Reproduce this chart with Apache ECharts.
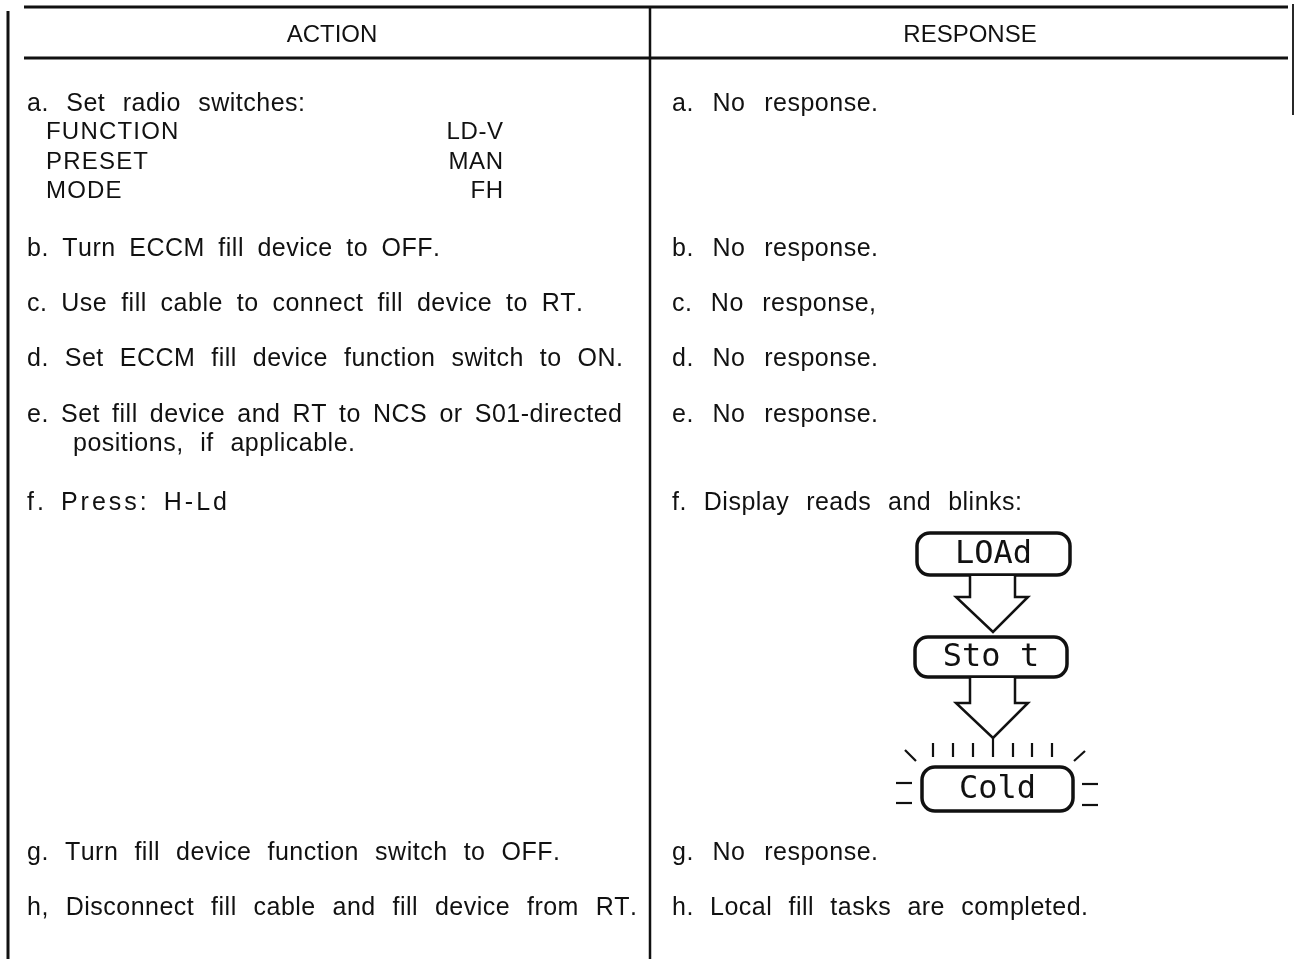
<!DOCTYPE html>
<html>
<head>
<meta charset="utf-8">
<style>
  html, body { margin: 0; padding: 0; background: #ffffff; }
  #chart { width: 1300px; height: 959px; }
</style>
<script src="https://cdn.jsdelivr.net/npm/echarts@6/dist/echarts.min.js"></script>
</head>
<body>
<div id="chart"></div>
<script>
// ---------------- data ----------------
const headers = ['ACTION', 'RESPONSE'];
const actionSteps = [
  'a. Set radio switches:',
  'b. Turn ECCM fill device to OFF.',
  'c. Use fill cable to connect fill device to RT.',
  'd. Set ECCM fill device function switch to ON.',
  'e. Set fill device and RT to NCS or S01-directed',
  'f. Press: H-Ld',
  'g. Turn fill device function switch to OFF.',
  'h, Disconnect fill cable and fill device from RT.'
];
const actionContinuations = ['', '', '', '', 'positions, if applicable.', '', '', ''];
const switchNames = ['FUNCTION', 'PRESET', 'MODE'];
const switchSettings = ['LD-V', 'MAN', 'FH'];
const responses = [
  'a. No response.',
  'b. No response.',
  'c. No response,',
  'd. No response.',
  'e. No response.',
  'f. Display reads and blinks:',
  'g. No response.',
  'h. Local fill tasks are completed.'
];
const displaySequence = ['LOAd', 'Sto t', 'Cold'];

// ---------------- layout ----------------
const INK = '#111111';
const FONT = "'Liberation Sans', Arial, Helvetica, sans-serif";
const SIZE = 25;
const HEAD_SIZE = 24;
const rowBaselines = [113, 258, 313, 368, 424, 512, 862, 917];
const switchBaselines = [141, 171, 200];
const contOffset = 29;
const leftX = 27, indentX = 46, contX = 73, valueRightX = 503, rightX = 672;
// set widths of the typeset lines (the source uses wide, justified word gaps)
const actionWidths = [278, 413, 556, 596, 595, 200, 533, 610];
const actionTracking = [0.5, 0.5, 0.5, 0.5, 0.5, 3.0, 0.5, 0.5];
const contWidth = 282;
const responseWidths = [206, 206, 204, 206, 206, 350, 206, 416];

const mctx = document.createElement('canvas').getContext('2d');
function measure(ch, size) {
  mctx.font = size + 'px ' + FONT;
  return mctx.measureText(ch).width;
}

const elements = [];
function place(text, x, baseline, ls, ws, align, size) {
  size = size || SIZE;
  const w = [];
  let total = 0;
  for (const ch of text) {
    const cw = measure(ch, size) + ls + (ch === ' ' ? ws : 0);
    w.push(cw); total += cw;
  }
  total -= ls;
  let cx = align === 'right' ? x - total : (align === 'center' ? x - total / 2 : x);
  let i = 0;
  for (const ch of text) {
    if (ch !== ' ') {
      elements.push({
        type: 'text', x: cx, y: baseline - size * 0.35,
        silent: true,
        style: { text: ch, fill: INK, font: size + 'px ' + FONT,
                 align: 'left', textAlign: 'left', verticalAlign: 'middle', textVerticalAlign: 'middle' }
      });
    }
    cx += w[i++];
  }
}
// typeset a line to a given width: fixed tracking, word gaps absorb the rest
function fit(text, x, baseline, width, ls) {
  let natural = 0, spaces = 0, n = 0;
  for (const ch of text) { natural += measure(ch, SIZE); n++; if (ch === ' ') spaces++; }
  const ws = spaces ? Math.max(0, (width - natural - ls * (n - 1)) / spaces) : 0;
  place(text, x, baseline, ls, ws, 'left');
}
function line(x1, y1, x2, y2, lw) {
  elements.push({ type: 'line', silent: true,
    shape: { x1, y1, x2, y2 }, style: { stroke: INK, lineWidth: lw || 2.5, lineCap: 'butt' } });
}

// table rules
line(24, 7, 1288, 7, 3);
line(24, 58, 1288, 58, 3);
line(8, 11, 8, 959, 3);
line(650, 7, 650, 959, 2.5);
line(1293, 4, 1293, 115, 1.8);

// headers
place(headers[0], 332, 44, 0, 0, 'center', HEAD_SIZE);
place(headers[1], 970, 44, 0, 0, 'center', HEAD_SIZE);

// action column
actionSteps.forEach((t, i) => {
  fit(t, leftX, rowBaselines[i], actionWidths[i], actionTracking[i]);
  if (actionContinuations[i]) fit(actionContinuations[i], contX, rowBaselines[i] + contOffset, contWidth, 0.5);
});
switchNames.forEach((n, i) => {
  place(n, indentX, switchBaselines[i], 1.2, 0, 'left', 24);
  place(switchSettings[i], valueRightX, switchBaselines[i], 0.6, 0, 'right', 24);
});

// response column
responses.forEach((t, i) => {
  fit(t, rightX, rowBaselines[i], responseWidths[i], 0.5);
});

// display sequence graphic
const boxes = [
  { x: 917, y: 533, w: 153, h: 42 },
  { x: 915, y: 637, w: 152, h: 40 },
  { x: 922, y: 767, w: 151, h: 44 }
];
boxes.forEach((b, i) => {
  elements.push({ type: 'rect', silent: true,
    shape: { x: b.x, y: b.y, width: b.w, height: b.h, r: 13 },
    style: { fill: '#fff', stroke: INK, lineWidth: 3.5 } });
  elements.push({ type: 'text', silent: true, x: b.x + b.w / 2, y: b.y + b.h / 2 + 1,
    style: { text: displaySequence[i], fill: INK, font: '32px "DejaVu Sans Mono", monospace',
             align: 'center', textAlign: 'center', verticalAlign: 'middle', textVerticalAlign: 'middle' } });
});
function arrow(top, headY, tipY) {
  elements.push({ type: 'polyline', silent: true,
    shape: { points: [[970, top], [970, headY], [956, headY], [993, tipY], [1028, headY], [1015, headY], [1015, top]] },
    style: { fill: '#fff', stroke: INK, lineWidth: 2.5, lineJoin: 'miter' } });
}
arrow(576, 597, 632);
arrow(678, 703, 738);

// blink rays
[933, 953, 973, 1013, 1032, 1052].forEach(x => line(x, 743, x, 757, 2.2));
line(993, 738, 993, 757, 2.2);
line(905, 750, 916, 761, 2.2);
line(1085, 751, 1074, 761, 2.2);
line(896, 783, 912, 783, 2.2);
line(896, 803, 912, 803, 2.2);
line(1082, 784, 1098, 784, 2.2);
line(1082, 805, 1098, 805, 2.2);

const chart = echarts.init(document.getElementById('chart'), null, { renderer: 'canvas' });
chart.setOption({
  backgroundColor: '#ffffff',
  animation: false,
  graphic: { elements: elements }
});
</script>
</body>
</html>
